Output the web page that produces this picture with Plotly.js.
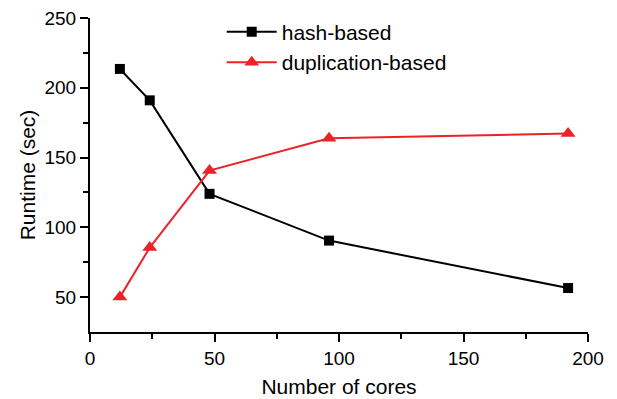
<!DOCTYPE html>
<html>
<head>
<meta charset="utf-8">
<script src="https://cdn.plot.ly/plotly-3.0.1.min.js"></script>
<style>html,body{margin:0;padding:0;background:#fff;}#chart{width:617px;height:399px;}</style>
</head>
<body>
<div id="chart"></div>
<script>
const cores = [12, 24, 48, 96, 192];
const hashBased = [213.5, 191, 124, 90.5, 56.5];
const duplicationBased = [50, 85.5, 140.7, 163.8, 167.2];
const seriesNames = ['hash-based', 'duplication-based'];

const FONT = 'Arial, "Liberation Sans", sans-serif';
const RED = '#EC2227';

const traces = [
  {
    x: cores, y: hashBased, name: seriesNames[0], type: 'scatter', mode: 'lines+markers',
    line: {color: '#000000', width: 2},
    marker: {symbol: 'square', size: 10, color: '#000000'}
  },
  {
    x: cores, y: duplicationBased, name: seriesNames[1], type: 'scatter', mode: 'lines+markers',
    line: {color: RED, width: 2},
    marker: {symbol: 'triangle-up', size: 13, color: RED}
  }
];

const axisCommon = {
  showline: true, linecolor: '#000', linewidth: 2, automargin: false,
  ticks: 'outside', ticklen: 8, tickwidth: 2, tickcolor: '#000',
  showgrid: false, zeroline: false, mirror: false,
  tickfont: {family: FONT, size: 19, color: '#000'},
  minor: {ticks: 'outside', ticklen: 5, tickwidth: 2, tickcolor: '#000', showgrid: false}
};

const layout = {
  width: 617, height: 399,
  margin: {l: 90, r: 29, t: 15, b: 67},
  paper_bgcolor: '#fff', plot_bgcolor: '#fff',
  font: {family: FONT, color: '#000'},
  showlegend: true,
  legend: {
    x: 0.2645, y: 1.02, xanchor: 'left', yanchor: 'top',
    bgcolor: 'rgba(0,0,0,0)', borderwidth: 0,
    font: {family: FONT, size: 21, color: '#000'},
    itemwidth: 50, tracegroupgap: 0
  },
  xaxis: Object.assign({}, axisCommon, {
    range: [0, 200], tickvals: [0, 50, 100, 150, 200],
    minor: Object.assign({}, axisCommon.minor, {tickvals: [25, 75, 125, 175]}),
    title: {text: 'Number of cores', font: {family: FONT, size: 21, color: '#000'}, standoff: 12}
  }),
  yaxis: Object.assign({}, axisCommon, {
    range: [25, 250], tickvals: [50, 100, 150, 200, 250],
    minor: Object.assign({}, axisCommon.minor, {tickvals: [75, 125, 175, 225]}),
    title: {text: 'Runtime (sec)', font: {family: FONT, size: 21, color: '#000'}, standoff: 3}
  })
};

Plotly.newPlot('chart', traces, layout, {displayModeBar: false, staticPlot: true});
</script>
</body>
</html>
